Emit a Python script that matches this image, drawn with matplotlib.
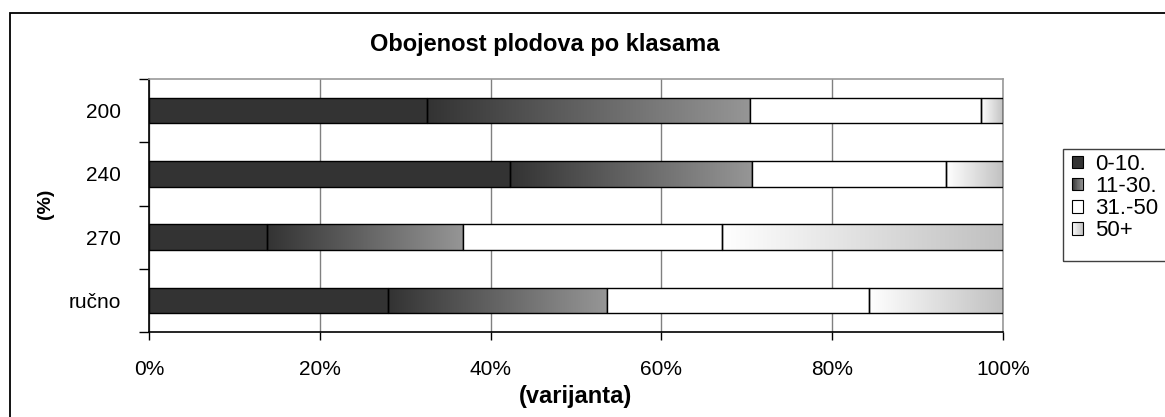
import numpy as np
import matplotlib
matplotlib.use("Agg")
import matplotlib.pyplot as plt
from matplotlib.patches import Rectangle
from matplotlib.colors import LinearSegmentedColormap, to_rgb
from matplotlib.legend_handler import HandlerBase

# ---- data -------------------------------------------------------------
categories = ["200", "240", "270", "ručno"]
class_labels = ["0-10.", "11-30.", "31.-50", "50+"]
share_0_10 = [32.5, 42.3, 13.8, 28.0]
share_11_30 = [37.9, 28.3, 23.0, 25.6]
share_31_50 = [27.0, 22.7, 30.3, 30.7]
share_50_plus = [2.6, 6.7, 32.9, 15.7]
x_ticks = [0, 20, 40, 60, 80, 100]
x_tick_labels = ["0%", "20%", "40%", "60%", "80%", "100%"]

title = "Obojenost plodova po klasama"
x_label = "(varijanta)"
y_label = "(%)"

# ---- styling ----------------------------------------------------------
plt.rcParams["font.family"] = ["Liberation Sans", "DejaVu Sans"]
DARK = "#333333"
GRAD_DARK = ("#333333", "#969696")
GRAD_LIGHT = ("#ffffff", "#c0c0c0")

W, H = 1165, 417
fig = plt.figure(figsize=(W / 100, H / 100), dpi=100)

# outer chart frame
fig.patches.append(Rectangle((10 / W, -0.1), 1.2, 1 - 13 / H + 0.1,
                             transform=fig.transFigure, fill=False,
                             edgecolor="black", linewidth=1.3, zorder=0))

left, right, top, bottom = 149, 1003, 79, 332
ax = fig.add_axes([left / W, 1 - bottom / H, (right - left) / W, (bottom - top) / H])

series = [share_0_10, share_11_30, share_31_50, share_50_plus]
totals = np.sum(series, axis=0)
pct = [np.asarray(s) / totals * 100 for s in series]

ypos = np.arange(len(categories))
bar_h = 0.4
starts = np.zeros(len(categories))
containers = []
for vals in pct:
    c = ax.barh(ypos, vals, left=starts, height=bar_h, color="white",
                edgecolor="black", linewidth=1.0, zorder=3)
    containers.append(c)
    starts = starts + vals

for p in containers[0].patches:
    p.set_facecolor(DARK)


def gradient_fill(container, c0, c1):
    cmap = LinearSegmentedColormap.from_list("g", [c0, c1])
    grad = np.linspace(0, 1, 256).reshape(1, -1)
    for p in container.patches:
        p.set_facecolor("none")
        x0, y0 = p.get_x(), p.get_y()
        x1, y1 = x0 + p.get_width(), y0 + p.get_height()
        im = ax.imshow(grad, extent=(x0, x1, y0, y1), cmap=cmap,
                       aspect="auto", interpolation="bilinear", zorder=2.5)
        im.set_clip_path(p)


gradient_fill(containers[1], *GRAD_DARK)
gradient_fill(containers[3], *GRAD_LIGHT)

ax.set_xlim(0, 100)
ax.set_ylim(len(categories) - 0.5, -0.5)

# x axis
ax.set_xticks(x_ticks)
ax.set_xticklabels(x_tick_labels, fontsize=15)
ax.tick_params(axis="x", direction="out", length=6, width=1, pad=14,
               colors="black")
ax.xaxis.grid(True, color="#808080", linewidth=1.0, zorder=0)
ax.set_axisbelow(True)

# y axis: tick marks between categories, labels at category centers
ax.set_yticks(np.arange(len(categories) + 1) - 0.5)
ax.set_yticklabels([])
ax.set_yticks(ypos, minor=True)
ax.set_yticklabels(categories, minor=True, fontsize=15)
ax.tick_params(axis="y", which="major", direction="out", length=7, width=1)
ax.tick_params(axis="y", which="minor", length=0, pad=20)

for side in ("left", "bottom"):
    ax.spines[side].set_color("black")
    ax.spines[side].set_linewidth(1.2)
for side in ("top", "right"):
    ax.spines[side].set_color("#9a9a9a")
    ax.spines[side].set_linewidth(1.2)

# titles
fig.text(545 / W, 1 - 45 / H, title, ha="center", va="center",
         fontsize=17, fontweight="bold")
fig.text(576 / W, 1 - 396 / H, x_label, ha="center", va="center",
         fontsize=17, fontweight="bold")
fig.text(45 / W, 1 - 204 / H, y_label, ha="center", va="center",
         rotation=90, fontsize=14, fontweight="bold")


# legend with gradient swatches
class GradientSwatch:
    def __init__(self, c0, c1):
        self.c0, self.c1 = c0, c1


class GradientHandler(HandlerBase):
    def create_artists(self, legend, orig_handle, xdescent, ydescent,
                       width, height, fontsize, trans):
        n = 16
        a, b = np.array(to_rgb(orig_handle.c0)), np.array(to_rgb(orig_handle.c1))
        arts = []
        for i in range(n):
            t = (i + 0.5) / n
            arts.append(Rectangle((-xdescent + i * width / n, -ydescent),
                                  width / n, height, facecolor=a + (b - a) * t,
                                  edgecolor="none", transform=trans))
        arts.append(Rectangle((-xdescent, -ydescent), width, height,
                              facecolor="none", edgecolor="black",
                              linewidth=0.8, transform=trans))
        return arts


handles = [Rectangle((0, 0), 1, 1, facecolor=DARK, edgecolor="black", linewidth=0.8),
           GradientSwatch(*GRAD_DARK),
           Rectangle((0, 0), 1, 1, facecolor="white", edgecolor="black", linewidth=0.8),
           GradientSwatch(*GRAD_LIGHT)]
leg = fig.legend(handles, class_labels, loc="upper left",
                 bbox_to_anchor=(1063 / W, 1 - 145 / H),
                 bbox_transform=fig.transFigure, fontsize=16,
                 handler_map={GradientSwatch: GradientHandler()},
                 handlelength=0.5, handleheight=0.5, handletextpad=0.55,
                 labelspacing=0.05, borderpad=0.4, borderaxespad=0,
                 frameon=False)

# legend frame (runs off the right edge of the chart area)
fig.patches.append(Rectangle((1063 / W, 1 - 261 / H), 0.2, (261 - 149) / H,
                             transform=fig.transFigure, fill=False,
                             edgecolor="#404040", linewidth=1.0, zorder=1))

fig.savefig("out.png", dpi=100)
